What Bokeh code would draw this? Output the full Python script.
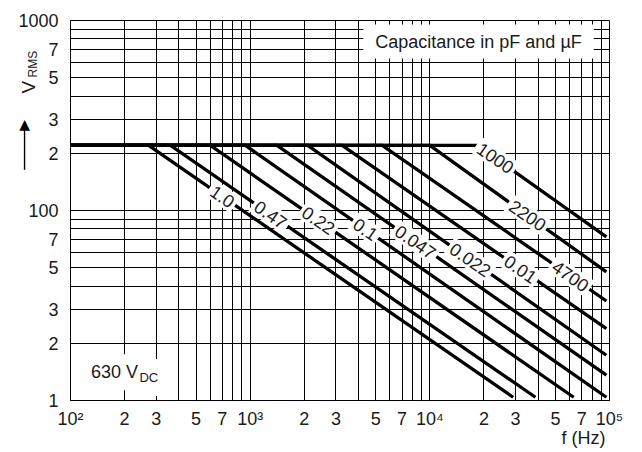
import math
from bokeh.plotting import figure
from bokeh.models import FixedTicker, Label, ColumnDataSource, Range1d
from bokeh.embed import file_html
from bokeh.resources import INLINE
from bokeh.core.properties import value

# ---------------- data ----------------
cap_labels = ["1.0", "0.47", "0.22", "0.1", "0.047", "0.022", "0.01", "4700", "2200", "1000"]
v_flat = 220
knee_freq = [272, 360, 600, 940, 1410, 2090, 3250, 5430, 10000, 18500]
end_freq = [29100, 38700, 63200, 96100, 96100, 96100, 96100, 96100, 96100, 96100]
end_volt = [10.4, 10.4, 10.4, 10.4, 13.6, 17.3, 23.9, 33.4, 47.5, 72.6]
label_freq = [701, 1300, 2400, 4390, 8320, 16800, 32000, 60700, 35000, 23200]

x_ticks = [100, 200, 300, 500, 700, 1000, 2000, 3000, 5000, 7000,
           10000, 20000, 30000, 50000, 70000, 100000]
x_tick_labels = ["10²", "2", "3", "5", "7", "10³", "2", "3", "5", "7",
                 "10⁴", "2", "3", "5", "7", "10⁵"]
y_ticks = [10, 20, 30, 50, 70, 100, 200, 300, 500, 700, 1000]
y_tick_labels = ["1", "2", "3", "5", "7", "100", "2", "3", "5", "7", "1000"]
x_grid = [m * 10 ** e for e in (2, 3, 4) for m in range(1, 10)] + [100000]
y_grid = [m * 10 ** e for e in (1, 2) for m in range(1, 10)] + [1000]

FONT = "Liberation Sans"
TXT = "#1a1a1a"

p = figure(width=642, height=452, x_axis_type="log", y_axis_type="log",
           x_range=Range1d(100, 100000), y_range=Range1d(10, 1000),
           output_backend="svg", toolbar_location=None,
           min_border_left=70, min_border_right=33, min_border_top=20, min_border_bottom=52)
p.background_fill_color = "white"
p.border_fill_color = "white"
p.outline_line_color = "black"
p.outline_line_width = 1

for ax, ticks, labs, standoff in ((p.xaxis, x_ticks, x_tick_labels, 8),
                                  (p.yaxis, y_ticks, y_tick_labels, 12)):
    ax.ticker = FixedTicker(ticks=ticks)
    ax.major_label_overrides = dict(zip(ticks, labs))
    ax.major_tick_line_color = None
    ax.minor_tick_line_color = None
    ax.major_tick_out = 0
    ax.major_tick_in = 0
    ax.minor_tick_out = 0
    ax.minor_tick_in = 0
    ax.axis_line_color = "black"
    ax.major_label_text_font = FONT
    ax.major_label_text_font_size = "18px"
    ax.major_label_text_color = TXT
    ax.major_label_standoff = standoff

p.xgrid.ticker = FixedTicker(ticks=x_grid)
p.ygrid.ticker = FixedTicker(ticks=y_grid)
for g in (p.xgrid, p.ygrid):
    g.grid_line_color = "black"
    g.grid_line_alpha = 1
    g.grid_line_width = 1

# curves
xs, ys = [], []
for k, fe, ve in zip(knee_freq, end_freq, end_volt):
    xs.append([100, k, fe])
    ys.append([v_flat, v_flat, ve])
p.multi_line(xs=xs, ys=ys, line_color="black", line_width=3.3, line_cap="butt", line_join="miter")

# curve labels placed on their curves
lv = []
for k, fe, ve, fl in zip(knee_freq, end_freq, end_volt, label_freq):
    if fl <= k:
        lv.append(v_flat)
    else:
        t = (math.log10(fl) - math.log10(k)) / (math.log10(fe) - math.log10(k))
        lv.append(10 ** (math.log10(v_flat) + t * (math.log10(ve) - math.log10(v_flat))))
src = ColumnDataSource(dict(x=label_freq, y=lv, text=cap_labels))
p.text(x="x", y="y", text="text", source=src, angle=-0.604, text_align="center",
       text_baseline="middle", text_font=value(FONT), text_font_size="18px", text_color=TXT,
       background_fill_color="white", padding=3)

# caption  (padding = (horizontal, vertical))
p.add_layout(Label(x=18660, y=775, text="Capacitance in pF and µF", text_align="center",
                   text_baseline="middle", text_font=FONT, text_font_size="18px", text_color=TXT,
                   background_fill_color="white", padding=(12, 7)))

# 630 VDC
p.add_layout(Label(x=130, y=14.1, text="630 V", text_align="left", text_baseline="middle",
                   text_font=FONT, text_font_size="18px", text_color=TXT,
                   background_fill_color="white", padding=(0, 8)))
p.add_layout(Label(x=242, y=13.2, text="DC", text_align="left", text_baseline="middle",
                   text_font=FONT, text_font_size="13px", text_color=TXT,
                   background_fill_color="white", padding=(0, 11)))

# y-axis title V_RMS with arrow; put in side panels with spare room so they are not clipped
p.add_layout(Label(x=58.75, y=413, text="V", angle=math.pi / 2,
                   text_align="left", text_baseline="alphabetic", text_font=FONT,
                   text_font_size="19px", text_color=TXT), "above")
p.add_layout(Label(x=62.2, y=501, text="RMS", angle=math.pi / 2,
                   text_align="left", text_baseline="alphabetic", text_font=FONT,
                   text_font_size="12px", text_color=TXT), "right")
# arrow shaft (filled box) and head
p.add_layout(Label(x=55.5, y=219, text=" ", text_align="center", text_baseline="middle",
                   text_font=FONT, text_font_size="5px",
                   background_fill_color="black", padding=(0, 21)), "right")
p.add_layout(Label(x=55.5, y=287, text="▲", text_align="center", text_baseline="alphabetic",
                   text_font="DejaVu Sans", text_font_size="14px", text_color="black"), "left")

# x-axis title
p.add_layout(Label(x=95000, y=6.35, text="f (Hz)",
                   text_align="right", text_baseline="alphabetic", text_font=FONT,
                   text_font_size="18px", text_color=TXT), "below")

open("out.html", "w").write(file_html(p, INLINE))
